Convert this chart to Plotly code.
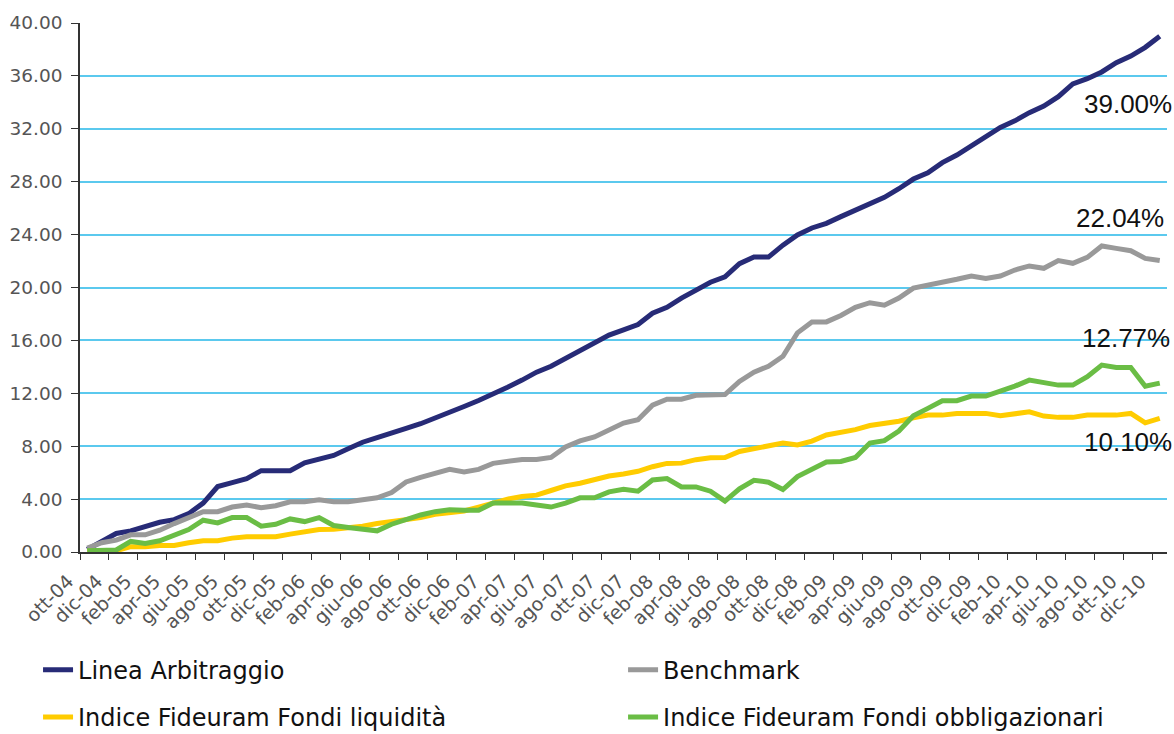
import plotly.graph_objects as go

months = ["gen", "feb", "mar", "apr", "mag", "giu", "lug", "ago", "set", "ott", "nov", "dic"]
categories = []
for yr in range(2004, 2011):
    for mi, mn in enumerate(months):
        if yr == 2004 and mi < 9:
            continue
        categories.append(f"{mn}-{str(yr)[2:]}")

linea_arbitraggio = [0.2, 0.8, 1.4, 1.6, 1.9, 2.25, 2.45, 2.9, 3.7, 4.95, 5.25, 5.55, 6.15, 6.15, 6.15,
                     6.75, 7.05, 7.3, 7.8, 8.3, 8.65, 9.05, 9.35, 9.7, 10.1, 10.6, 11.0, 11.45, 11.9,
                     12.45, 13.0, 13.6, 14.05, 14.65, 15.15, 15.75, 16.4, 16.8, 17.2, 18.05, 18.5, 19.2,
                     19.8, 20.4, 20.8, 21.8, 22.3, 22.3, 23.2, 23.97, 24.5, 24.85, 25.36, 25.86, 26.31,
                     26.82, 27.47, 28.2, 28.68, 29.44, 30.02, 30.72, 31.46, 32.11, 32.6, 33.22, 33.72,
                     34.43, 35.39, 35.79, 36.3, 37.0, 37.5, 38.16, 39.0]

benchmark = [0.3, 0.7, 0.9, 1.3, 1.3, 1.65, 2.15, 2.65, 3.05, 3.05, 3.4, 3.55, 3.35, 3.5, 3.8, 3.8,
             3.95, 3.8, 3.8, 3.95, 4.1, 4.5, 5.3, 5.65, 5.95, 6.25, 6.05, 6.25, 6.7, 6.85, 7.0, 7.0,
             7.15, 7.95, 8.4, 8.7, 9.25, 9.75, 10.0, 11.1, 11.55, 11.55, 11.85, 11.9, 11.9, 12.9,
             13.6, 14.05, 14.8, 16.57, 17.4, 17.4, 17.88, 18.5, 18.85, 18.66, 19.2, 19.95, 20.15,
             20.44, 20.62, 20.87, 20.69, 20.87, 21.32, 21.63, 21.45, 22.03, 21.83, 22.28, 23.14,
             22.96, 22.78, 22.2, 22.04]

fondi_liquidita = [0.05, 0.05, 0.1, 0.4, 0.4, 0.5, 0.5, 0.7, 0.85, 0.85, 1.05, 1.15, 1.15, 1.15, 1.35,
                   1.55, 1.7, 1.72, 1.8, 1.95, 2.15, 2.3, 2.45, 2.6, 2.85, 2.95, 3.1, 3.4, 3.7, 4.0,
                   4.2, 4.3, 4.65, 5.0, 5.2, 5.5, 5.75, 5.9, 6.1, 6.45, 6.7, 6.72, 6.98, 7.13, 7.15,
                   7.6, 7.8, 8.06, 8.24, 8.09, 8.38, 8.85, 9.05, 9.25, 9.56, 9.72, 9.89, 10.15, 10.35,
                   10.35, 10.48, 10.48, 10.48, 10.3, 10.43, 10.6, 10.28, 10.18, 10.18, 10.35, 10.35,
                   10.35, 10.48, 9.77, 10.10]

fondi_obbligazionari = [0.1, 0.1, 0.15, 0.8, 0.65, 0.85, 1.3, 1.7, 2.4, 2.2, 2.6, 2.6, 1.95, 2.1, 2.5,
                        2.3, 2.6, 2.0, 1.85, 1.75, 1.6, 2.1, 2.45, 2.8, 3.05, 3.2, 3.15, 3.15, 3.7, 3.7,
                        3.7, 3.55, 3.4, 3.7, 4.1, 4.1, 4.55, 4.75, 4.6, 5.45, 5.55, 4.92, 4.92, 4.6,
                        3.85, 4.77, 5.42, 5.28, 4.72, 5.7, 6.2, 6.8, 6.85, 7.15, 8.24, 8.42, 9.15, 10.3,
                        10.86, 11.44, 11.44, 11.79, 11.79, 12.12, 12.54, 13.0, 12.8, 12.62, 12.62, 13.25,
                        14.13, 13.95, 13.95, 12.54, 12.77]

tick_labels = categories[::2]
final_labels = ["39.00%", "22.04%", "12.77%", "10.10%"]

x = list(range(len(categories)))

fig = go.Figure()
series = [
    ("Linea Arbitraggio", linea_arbitraggio, "#272B77", "legend", "g1"),
    ("Benchmark", benchmark, "#999999", "legend2", "g1"),
    ("Indice Fideuram Fondi liquidità", fondi_liquidita, "#FFCC00", "legend", "g2"),
    ("Indice Fideuram Fondi obbligazionari", fondi_obbligazionari, "#6ABD45", "legend2", "g2"),
]
for name, vals, col, lg, grp in series:
    fig.add_trace(go.Scatter(x=x, y=vals, mode="lines", name=name, legend=lg, legendgroup=grp,
                             line=dict(color=col, width=5), hoverinfo="skip"))

ann_pos = [(0.964, 0.847), (0.957, 0.632), (0.962, 0.405), (0.964, 0.207)]
for txt, (ax, ay) in zip(final_labels, ann_pos):
    fig.add_annotation(text=txt, x=ax, y=ay, xref="paper", yref="paper", showarrow=False,
                       xanchor="center", yanchor="middle",
                       font=dict(family="Liberation Sans, Arial, sans-serif", size=26, color="#111111"))

legend_font = dict(family="DejaVu Sans, sans-serif", size=24, color="#111111")
common_legend = dict(orientation="v", yanchor="top", y=-0.181, font=legend_font,
                     bgcolor="rgba(0,0,0,0)", itemclick=False, tracegroupgap=13)
fig.update_layout(
    width=1174, height=734,
    margin=dict(l=80, r=7, t=23, b=182, autoexpand=False),
    paper_bgcolor="white", plot_bgcolor="white",
    showlegend=True,
    legend=dict(x=-0.0386, xanchor="left", **common_legend),
    legend2=dict(x=0.4996, xanchor="left", **common_legend),
    xaxis=dict(
        range=[-0.5, len(categories) - 0.5],
        tickmode="array",
        tickvals=[2 * j - 0.5 for j in range(len(tick_labels))],
        ticktext=tick_labels,
        tickangle=-45,
        ticks="outside", ticklen=6, tickwidth=1.2, tickcolor="#333333",
        ticklabelshift=-12, ticklabelstandoff=3,
        showline=True, linecolor="#333333", linewidth=1.5,
        showgrid=False, zeroline=False,
        tickfont=dict(family="DejaVu Sans, sans-serif", size=19, color="#555555"),
    ),
    yaxis=dict(
        range=[0, 40], dtick=4, tick0=0, tickformat=".2f",
        ticks="outside", ticklen=7, tickwidth=1.2, tickcolor="#333333",
        ticklabelstandoff=5,
        showline=True, linecolor="#333333", linewidth=1.5,
        showgrid=True, gridcolor="#5BC9EE", gridwidth=1.5, zeroline=False,
        tickfont=dict(family="DejaVu Sans, sans-serif", size=18.5, color="#555555"),
    ),
)

fig.write_html("out.html", config={"displayModeBar": False},
               post_script="document.body.style.margin='0px';")
